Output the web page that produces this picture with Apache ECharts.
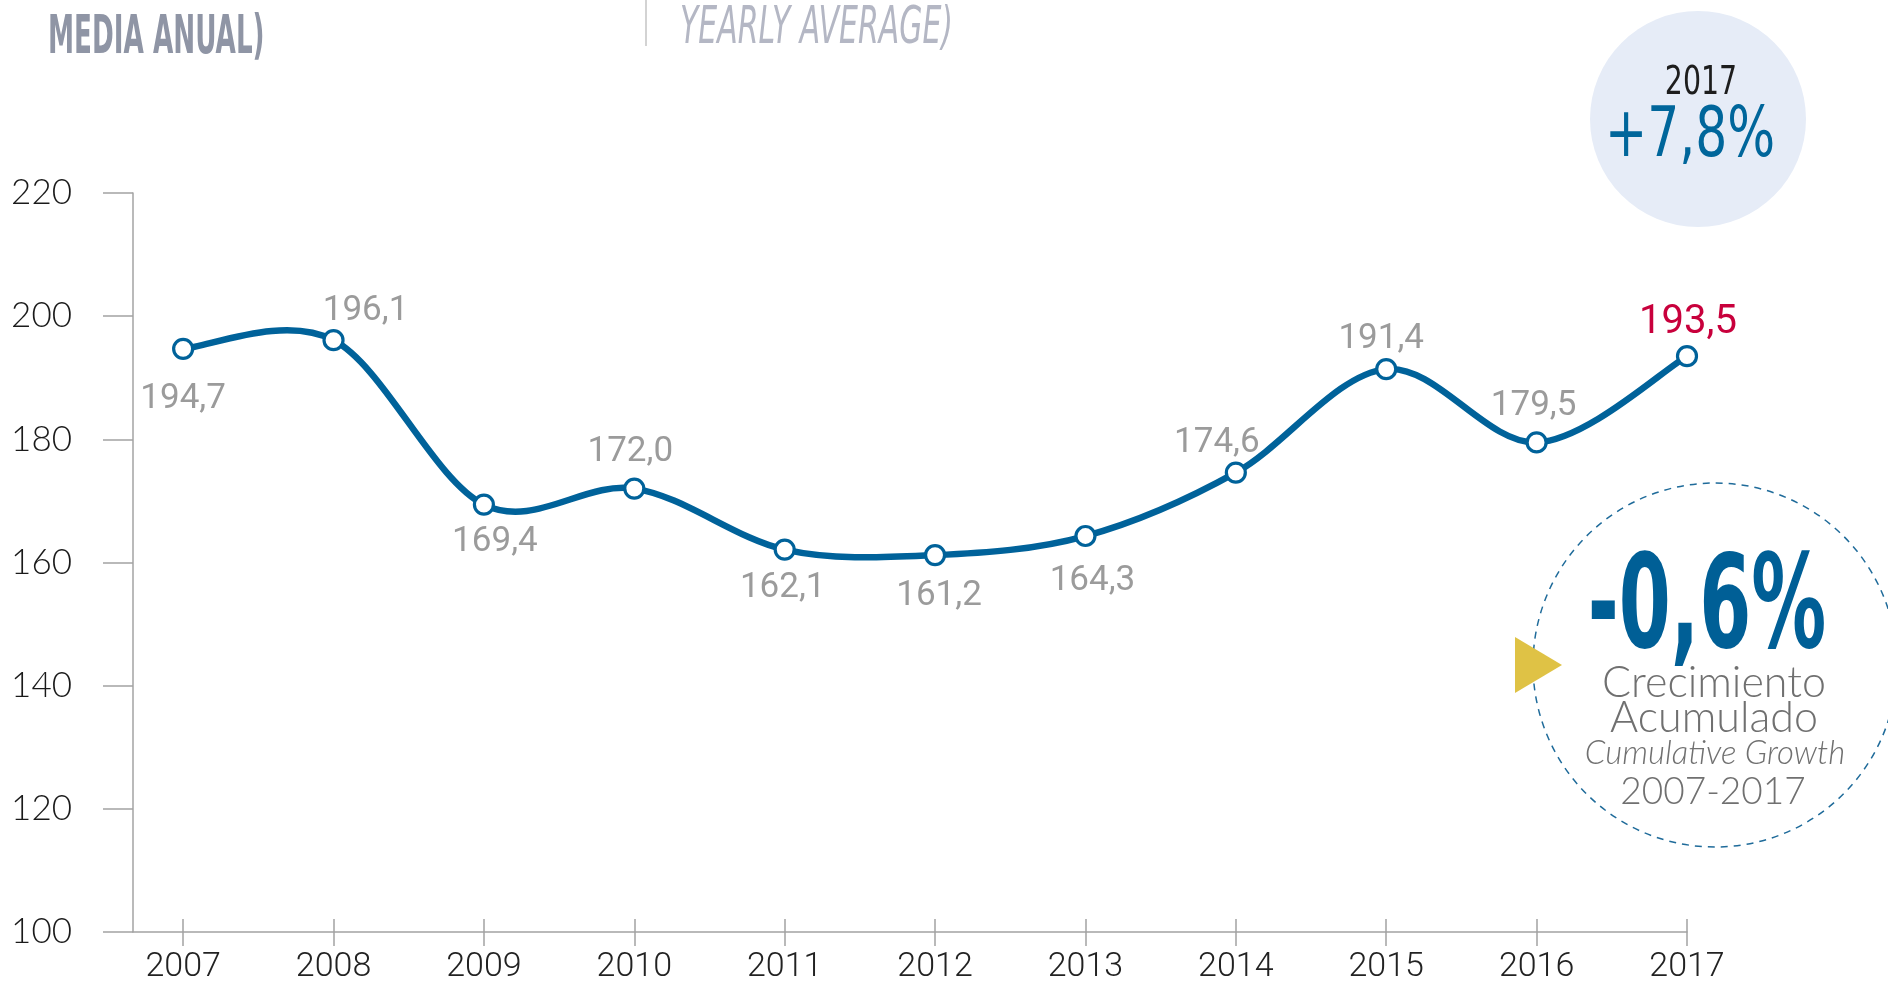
<!DOCTYPE html>
<html>
<head>
<meta charset="utf-8">
<title>Media anual</title>
<script src="https://cdn.jsdelivr.net/npm/echarts@6.0.0/dist/echarts.min.js"></script>
<style>
  html, body { margin: 0; padding: 0; background: #fff; }
  #chart { width: 1888px; height: 984px; }
</style>
</head>
<body>
<div id="chart"></div>
<script>
// datos (media anual)
const years = [2007, 2008, 2009, 2010, 2011, 2012, 2013, 2014, 2015, 2016, 2017];
const values = [194.7, 196.1, 169.4, 172.0, 162.1, 161.2, 164.3, 174.6, 191.4, 179.5, 193.5];
const yTicks = [100, 120, 140, 160, 180, 200, 220];

// donde va cada etiqueta (arriba / abajo) y su ajuste [dx, dy]
const labelSide = ['bottom', 'top', 'bottom', 'top', 'bottom', 'bottom', 'bottom', 'top', 'top', 'top', 'top'];
const labelShift = [[0, 12], [32, 5], [11, -1], [-4, -3], [-2, 0], [4, 3], [7, 7], [-19, 4], [-5, 4], [-3, -3], [1, 3]];

const BLUE = '#00629a';
const AXIS = '#a3a3a3';
const COND = '"DejaVu Sans Condensed", "DejaVu Sans", sans-serif';
const ROBOTO = 'Roboto, "Noto Sans", sans-serif';
const LIGHT = 'Lato, "Open Sans", sans-serif';

const fmt = v => v.toFixed(1).replace('.', ',');

const seriesData = years.map((y, i) => {
    const last = i === years.length - 1;
    return {
        value: [y, values[i]],
        label: {
            position: labelSide[i],
            distance: labelSide[i] === 'top' ? 5 : 10,
            offset: labelShift[i],
            color: last ? '#c8003c' : '#9b9b9b',
            fontSize: last ? 40 : 35,
        }
    };
});

// curva tipo catmull-rom entre los puntos (pasa por encima de 2007-2008 como en el original)
function renderCurve(params, api) {
    const i = params.dataIndex;
    if (i >= years.length - 1) return;
    const p = k => {
        const j = Math.max(0, Math.min(years.length - 1, k));
        return api.coord([years[j], values[j]]);
    };
    const p0 = p(i - 1), p1 = p(i), p2 = p(i + 1), p3 = p(i + 2);
    const c1 = [p1[0] + (p2[0] - p0[0]) / 6, p1[1] + (p2[1] - p0[1]) / 6];
    const c2 = [p2[0] - (p3[0] - p1[0]) / 6, p2[1] - (p3[1] - p1[1]) / 6];
    return {
        type: 'path',
        shape: {
            pathData: `M${p1[0]},${p1[1]} C${c1[0]},${c1[1]} ${c2[0]},${c2[1]} ${p2[0]},${p2[1]}`
        },
        style: { stroke: BLUE, lineWidth: 6.5, fill: 'none', lineCap: 'round' }
    };
}

const chart = echarts.init(document.getElementById('chart'), null, { renderer: 'canvas' });

const option = {
    animation: false,
    grid: {
        left: 133,
        right: 201,
        top: 193,
        bottom: 51,
    },
    xAxis: [
        {
            type: 'value',
            min: 2007 - 1 / 3,
            max: 2017,
            axisLine: { show: true, lineStyle: { color: AXIS, width: 1.5 } },
            axisTick: {
                show: true,
                customValues: years,
                inside: true,
                length: 13,
                lineStyle: { color: AXIS, width: 1.5 },
            },
            axisLabel: {
                customValues: years,
                formatter: v => String(v),
                margin: 18,
                fontFamily: ROBOTO,
                fontWeight: 300,
                fontSize: 34,
                color: '#222',
            },
            splitLine: { show: false },
        },
        {
            type: 'value',
            position: 'bottom',
            min: 2007 - 1 / 3,
            max: 2017,
            axisLine: { show: false },
            axisTick: {
                show: true,
                customValues: years,
                inside: false,
                length: 14,
                lineStyle: { color: AXIS, width: 1.5 },
            },
            axisLabel: { show: false },
            splitLine: { show: false },
        }
    ],
    yAxis: {
        type: 'value',
        min: yTicks[0],
        max: yTicks[yTicks.length - 1],
        interval: 20,
        axisLine: { show: true, lineStyle: { color: AXIS, width: 1.5 } },
        axisTick: { show: true, length: 30, lineStyle: { color: AXIS, width: 1.5 } },
        axisLabel: {
            margin: 61,
            fontFamily: LIGHT,
            fontWeight: 300,
            fontSize: 35,
            color: '#1a1a1a',
        },
        splitLine: { show: false },
    },
    series: [
        {
            type: 'custom',
            xAxisIndex: 0,
            renderItem: renderCurve,
            data: years.map((y, i) => [y, values[i]]),
            clip: false,
            silent: true,
            z: 2,
        },
        {
            type: 'line',
            xAxisIndex: 0,
            data: seriesData,
            lineStyle: { opacity: 0 },
            symbol: 'circle',
            symbolSize: 19,
            itemStyle: { color: '#fff', borderColor: BLUE, borderWidth: 3.2 },
            label: {
                show: true,
                fontFamily: ROBOTO,
                formatter: p => fmt(p.value[1]),
            },
            z: 3,
        }
    ],
    graphic: [
        // cabecera
        {
            type: 'text', x: 48, y: 39, scaleX: 0.55,
            style: {
                text: 'MEDIA ANUAL)', fill: '#8f95a5',
                font: 'bold 53px ' + COND,
                textAlign: 'left', textVerticalAlign: 'middle',
            }
        },
        {
            type: 'line',
            shape: { x1: 646, y1: 0, x2: 646, y2: 46 },
            style: { stroke: '#c4c4c4', lineWidth: 1.5 }
        },
        {
            type: 'text', x: 680, y: 29, scaleX: 0.64,
            style: {
                text: 'YEARLY AVERAGE)', fill: '#b4b7c4',
                font: 'italic 52px ' + COND,
                textAlign: 'left', textVerticalAlign: 'middle',
            }
        },
        // circulo 2017
        {
            type: 'circle',
            shape: { cx: 1698, cy: 119, r: 108 },
            style: { fill: '#e6ecf7' }
        },
        {
            type: 'text', x: 1701, y: 84, scaleX: 0.81,
            style: {
                text: '2017', fill: '#1d1d1d',
                font: '39px ' + COND,
                textAlign: 'center', textVerticalAlign: 'middle',
            }
        },
        {
            type: 'text', x: 1690, y: 138, scaleX: 0.8,
            style: {
                text: '+7,8%', fill: '#00669b',
                font: '70px ' + COND,
                textAlign: 'center', textVerticalAlign: 'middle',
            }
        },
        // crecimiento acumulado
        {
            type: 'circle',
            shape: { cx: 1715, cy: 665, r: 182 },
            style: { fill: 'none', stroke: '#1f6b9a', lineWidth: 1.5, lineDash: [7, 6] }
        },
        {
            type: 'polygon',
            shape: { points: [[1515, 637], [1515, 693], [1562, 665]] },
            style: { fill: '#dfc245' }
        },
        {
            type: 'text', x: 1707, y: 613, scaleX: 0.64,
            style: {
                text: '-0,6%', fill: '#005f96',
                font: 'bold 130px ' + COND,
                textAlign: 'center', textVerticalAlign: 'middle',
            }
        },
        {
            type: 'text', x: 1714, y: 683,
            style: {
                text: 'Crecimiento', fill: '#707070',
                font: '300 43px ' + LIGHT,
                textAlign: 'center', textVerticalAlign: 'middle',
            }
        },
        {
            type: 'text', x: 1714, y: 718,
            style: {
                text: 'Acumulado', fill: '#707070',
                font: '300 43px ' + LIGHT,
                textAlign: 'center', textVerticalAlign: 'middle',
            }
        },
        {
            type: 'text', x: 1715, y: 753,
            style: {
                text: 'Cumulative Growth', fill: '#707070',
                font: 'italic 300 33px ' + LIGHT,
                textAlign: 'center', textVerticalAlign: 'middle',
            }
        },
        {
            type: 'text', x: 1713, y: 792,
            style: {
                text: '2007-2017', fill: '#707070',
                font: '300 37px ' + LIGHT,
                textAlign: 'center', textVerticalAlign: 'middle',
            }
        }
    ]
};

option && chart.setOption(option);
</script>
</body>
</html>
